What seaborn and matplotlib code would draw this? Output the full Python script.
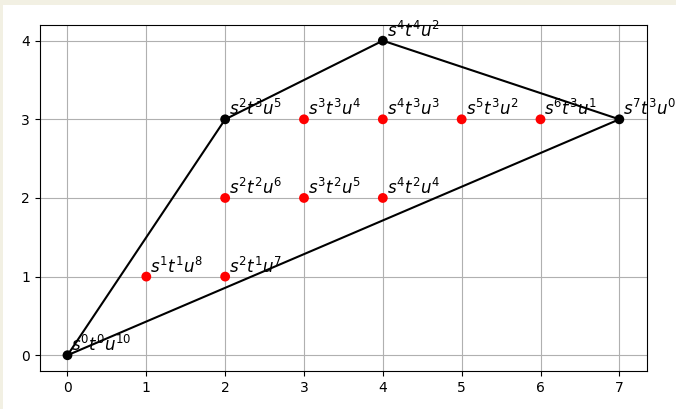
import matplotlib
matplotlib.use("Agg")
import matplotlib.pyplot as plt
import seaborn as sns
import pandas as pd
from matplotlib.patches import Rectangle

# Vertices of the Newton polygon (exponents of s and t) and the u exponent
hull_s = [0, 2, 4, 7]
hull_t = [0, 3, 4, 3]
hull_u = [10, 5, 2, 0]

# Interior lattice points of the polygon
inner_s = [1, 2, 2, 3, 4, 3, 4, 5, 6]
inner_t = [1, 1, 2, 2, 2, 3, 3, 3, 3]
inner_u = [8, 7, 6, 5, 4, 4, 3, 2, 1]

# Closed boundary path
edge_s = [0, 2, 4, 7, 0]
edge_t = [0, 3, 4, 3, 0]

fig = plt.figure(figsize=(6.76, 4.09), dpi=100)
ax = fig.add_axes([0.059, 0.093, 0.898, 0.846])

# thin beige frame along top and left edges
fig.patches.append(Rectangle((0, 1 - 5 / 409), 1, 5 / 409, transform=fig.transFigure,
                             facecolor="#f2f0e3", edgecolor="none", zorder=-10))
fig.patches.append(Rectangle((0, 0), 3 / 676, 1, transform=fig.transFigure,
                             facecolor="#f2f0e3", edgecolor="none", zorder=-10))

edges = pd.DataFrame({"s": edge_s, "t": edge_t, "order": range(len(edge_s))})
sns.lineplot(data=edges, x="s", y="t", sort=False, color="black", linewidth=1.5,
             ax=ax, zorder=2, estimator=None)

inner = pd.DataFrame({"s": inner_s, "t": inner_t})
sns.scatterplot(data=inner, x="s", y="t", color="red", s=50, edgecolor="none",
                ax=ax, zorder=3)
hull = pd.DataFrame({"s": hull_s, "t": hull_t})
sns.scatterplot(data=hull, x="s", y="t", color="black", s=50, edgecolor="none",
                ax=ax, zorder=3)

for xs, ys, us in ((hull_s, hull_t, hull_u), (inner_s, inner_t, inner_u)):
    for a, b, c in zip(xs, ys, us):
        ax.text(a + 0.05, b + 0.05, rf"$s^{{{a}}}t^{{{b}}}u^{{{c}}}$", fontsize=12,
                zorder=4)

ax.set_xlim(-0.35, 7.35)
ax.set_ylim(-0.2, 4.2)
ax.set_xticks(range(0, 8))
ax.set_yticks(range(0, 5))
ax.set_xlabel("")
ax.set_ylabel("")
ax.grid(True, color="#b0b0b0", linewidth=0.8)
ax.set_axisbelow(True)

fig.savefig("out.png", dpi=100)
